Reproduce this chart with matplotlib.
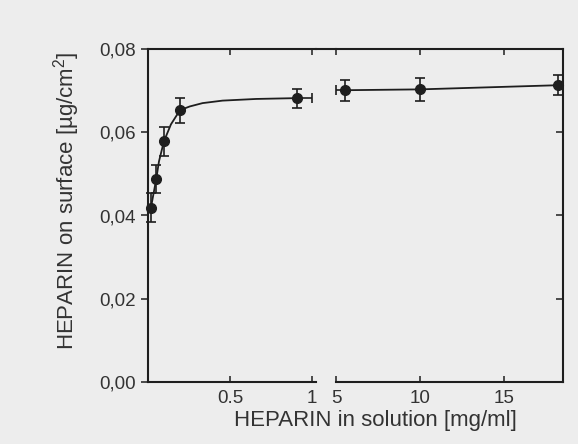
import matplotlib
matplotlib.use("Agg")
import matplotlib.pyplot as plt
from matplotlib.lines import Line2D
from matplotlib.ticker import FuncFormatter

plt.rcParams['font.family'] = ['Liberation Sans', 'DejaVu Sans']
plt.rcParams['mathtext.fontset'] = 'custom'
plt.rcParams['mathtext.rm'] = 'Liberation Sans'
plt.rcParams['mathtext.default'] = 'regular'

ink = '#1e1e1e'
paper = '#ededed'

# measured points, low concentration range (mg/ml)
x_low = [0.018, 0.05, 0.097, 0.195, 0.91]
y_low = [0.0419, 0.0487, 0.0578, 0.0653, 0.0682]
yerr_low = [0.0035, 0.0034, 0.0034, 0.003, 0.0023]
xerr_low = [[0, 0, 0, 0, 0], [0, 0, 0, 0, 0.09]]

# measured points, high concentration range (mg/ml)
x_high = [5.55, 10.0, 18.2]
y_high = [0.0701, 0.0703, 0.0713]
yerr_high = [0.0025, 0.0027, 0.0024]
xerr_high = [[0.55, 0, 0], [0, 0, 0]]

# adsorption isotherm fit line
fit_x_low = [0.018, 0.05, 0.067, 0.097, 0.14, 0.195, 0.255, 0.333, 0.455, 0.66, 0.91]
fit_y_low = [0.0419, 0.0487, 0.0530, 0.0578, 0.0619, 0.0653, 0.0662, 0.0670, 0.0676, 0.0680, 0.0682]
fit_x_high = [5.55, 10.0, 18.2]
fit_y_high = [0.0701, 0.0703, 0.0713]

y_ticks = [0.0, 0.02, 0.04, 0.06, 0.08]
x_ticks_low = [0.5, 1]
x_ticks_high = [5, 10, 15]

fig = plt.figure(figsize=(5.78, 4.44), dpi=100, facecolor=paper)
ax1 = fig.add_axes([148 / 578, 62 / 444, 168 / 578, 333 / 444], facecolor=paper)
ax2 = fig.add_axes([336 / 578, 62 / 444, 227 / 578, 333 / 444], facecolor=paper)

for ax in (ax1, ax2):
    ax.set_ylim(0, 0.08)
    ax.set_yticks(y_ticks)
    for s in ax.spines.values():
        s.set_linewidth(1.5)
        s.set_color(ink)
    ax.tick_params(axis='x', direction='in', top=True, length=4, width=1.1,
                   color=ink, labelsize=13.5, labelcolor='#333333', pad=6)

ax1.set_xlim(0, 1.025)
ax1.set_xticks(x_ticks_low)
ax1.set_xticklabels(['0.5', '1'])
ax1.spines['right'].set_visible(False)
ax1.tick_params(axis='y', direction='out', length=5, width=1.1, color=ink,
                labelsize=13.5, labelcolor='#333333', pad=4)
ax1.yaxis.set_major_formatter(FuncFormatter(lambda v, p: f"{v:.2f}".replace('.', ',')))

ax2.set_xlim(5, 18.5)
ax2.set_xticks(x_ticks_high)
ax2.set_xticklabels(['5', '10', '15'])
ax2.spines['left'].set_visible(False)
ax2.tick_params(axis='y', left=False, right=True, labelleft=False,
                direction='in', length=5, width=1.1, color=ink)

ax1.plot(fit_x_low, fit_y_low, color=ink, lw=1.3, clip_on=False)
ax2.plot(fit_x_high, fit_y_high, color=ink, lw=1.3, clip_on=False)

ax1.errorbar(x_low, y_low, yerr=yerr_low, xerr=xerr_low, fmt='o', color=ink,
             ms=7, elinewidth=1.2, capsize=3.5, capthick=1.2, clip_on=False)
ax2.errorbar(x_high, y_high, yerr=yerr_high, xerr=xerr_high, fmt='o', color=ink,
             ms=7, elinewidth=1.2, capsize=3.5, capthick=1.2, clip_on=False)

# top frame runs across the break, bottom one does not
top = (62 + 333) / 444
fig.add_artist(Line2D([316 / 578, 336 / 578], [top, top], color=ink, lw=1.5))

fig.text(67 / 578, 1 - 201 / 444, 'HEPARIN on surface [µg/cm$^2$]', fontsize=16,
         color='#333333', ha='center', va='center', rotation=90)
fig.text(375 / 578, 1 - 420 / 444, 'HEPARIN in solution [mg/ml]', fontsize=16,
         color='#333333', ha='center', va='center')

fig.savefig('out.png', dpi=100, facecolor=paper)
